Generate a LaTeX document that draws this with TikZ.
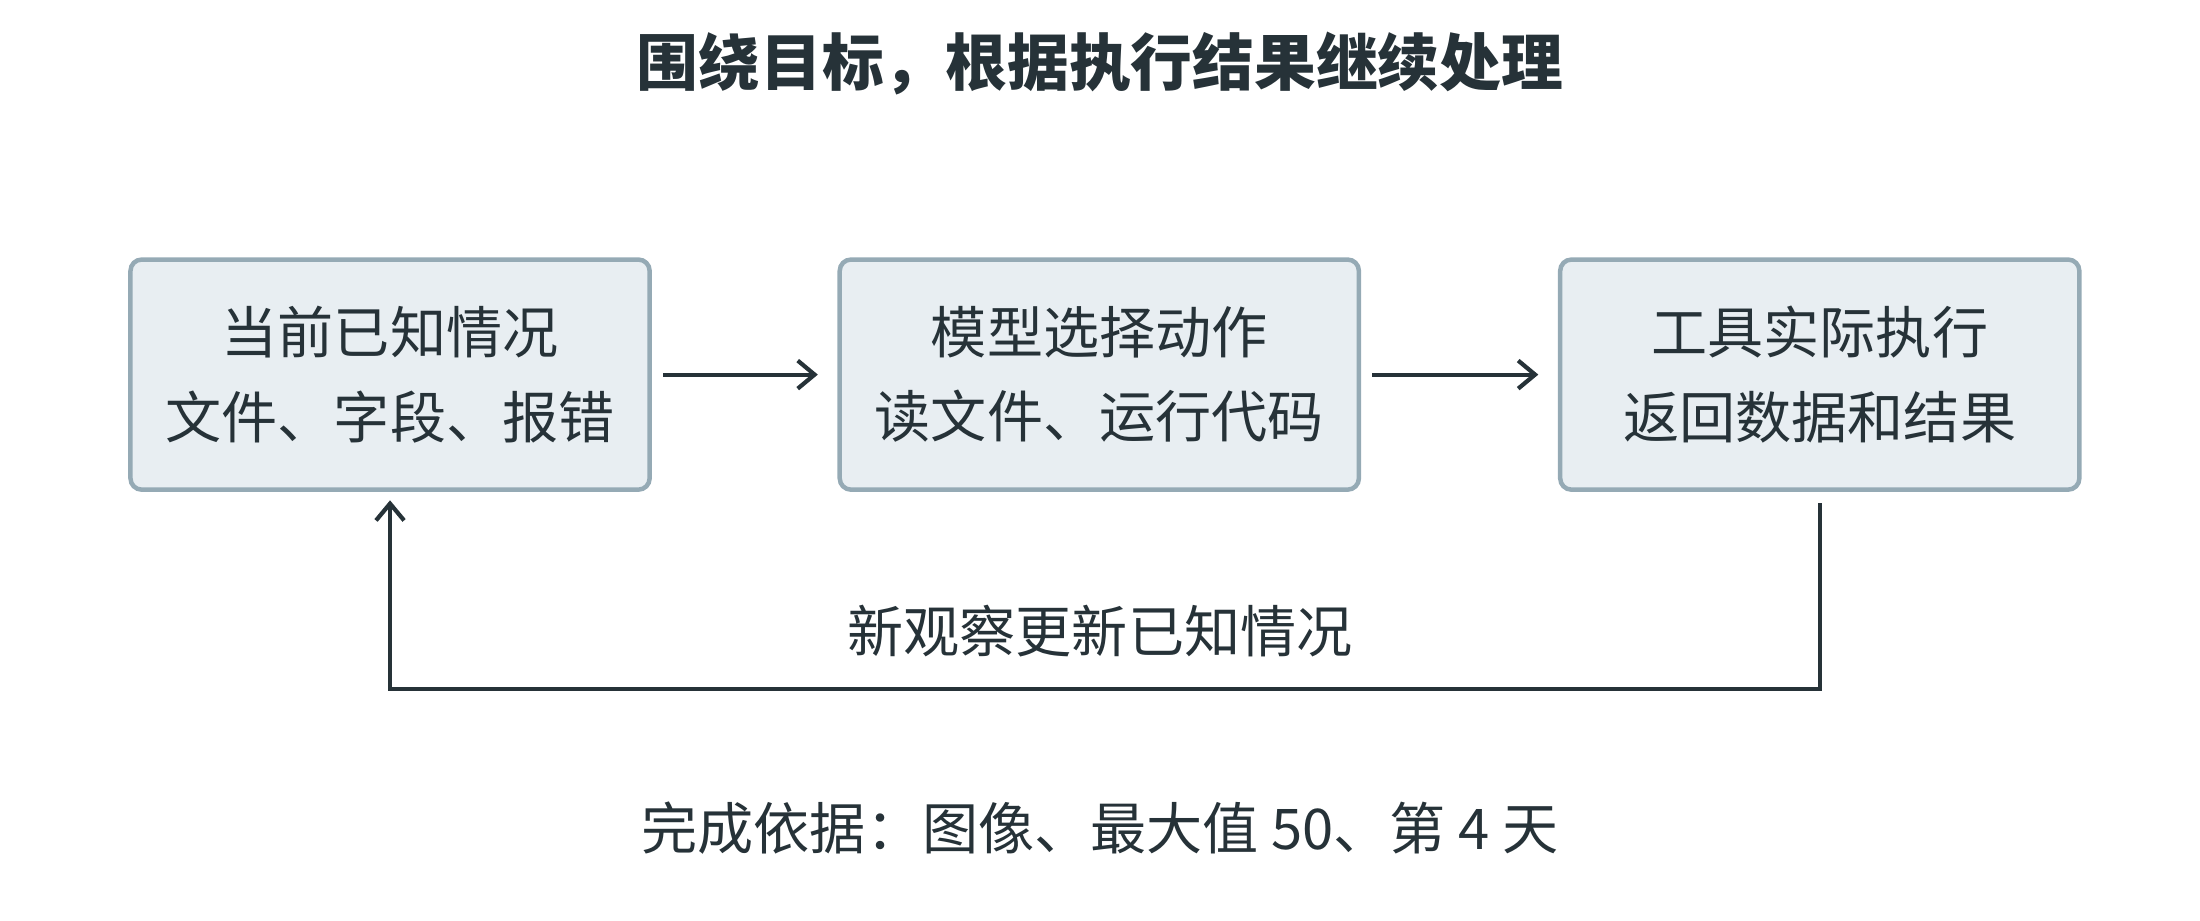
\documentclass[tikz,border=0pt]{standalone}
\usepackage{fontspec}
\setmainfont{Noto Sans CJK SC}
\newfontfamily\cjkb[BoldFont={Noto Sans CJK SC Bold}]{Noto Sans CJK SC}
\usetikzlibrary{arrows.meta}
\definecolor{ink}{HTML}{263238}
\definecolor{boxfill}{HTML}{E8EEF2}
\definecolor{boxline}{HTML}{95AAB5}
\begin{document}
\begin{tikzpicture}[x=0.5pt,y=-0.5pt,
  box/.style={draw=boxline,fill=boxfill,line width=1.6pt,rounded corners=4pt,minimum width=185pt,minimum height=82pt,align=center,font=\fontsize{20}{30}\selectfont,text=ink},
  arr/.style={draw=ink,line width=1.5pt,-{Straight Barb[length=6pt,width=10pt]}},
  txt/.style={text=ink,font=\fontsize{20}{24}\selectfont}]
\useasboundingbox (0,0) rectangle (1568,656);
\node[text=ink,font=\fontsize{22}{26}\selectfont\bfseries] (title) at (784,45) {围绕目标，根据执行结果继续处理};
\node[box] (a) at (278,267) {当前已知情况\\文件、字段、报错};
\node[box] (b) at (783.5,267) {模型选择动作\\读文件、运行代码};
\node[box] (c) at (1297,267) {工具实际执行\\返回数据和结果};
\draw[arr] ([xshift=4pt]a.east) -- ([xshift=-7pt]b.west);
\draw[arr] ([xshift=4pt]b.east) -- ([xshift=-7pt]c.west);
\coordinate (p1) at (1297,491);
\coordinate (p2) at (278,491);
\draw[arr] ([yshift=-4pt]c.south) -- (p1) -- (p2) -- ([yshift=-3pt]a.south);
\node[txt] (lbl) at (784,450) {新观察更新已知情况};
\node[txt] (foot) at (784,590) {完成依据：图像、最大值 50、第 4 天};
\end{tikzpicture}
\end{document}
